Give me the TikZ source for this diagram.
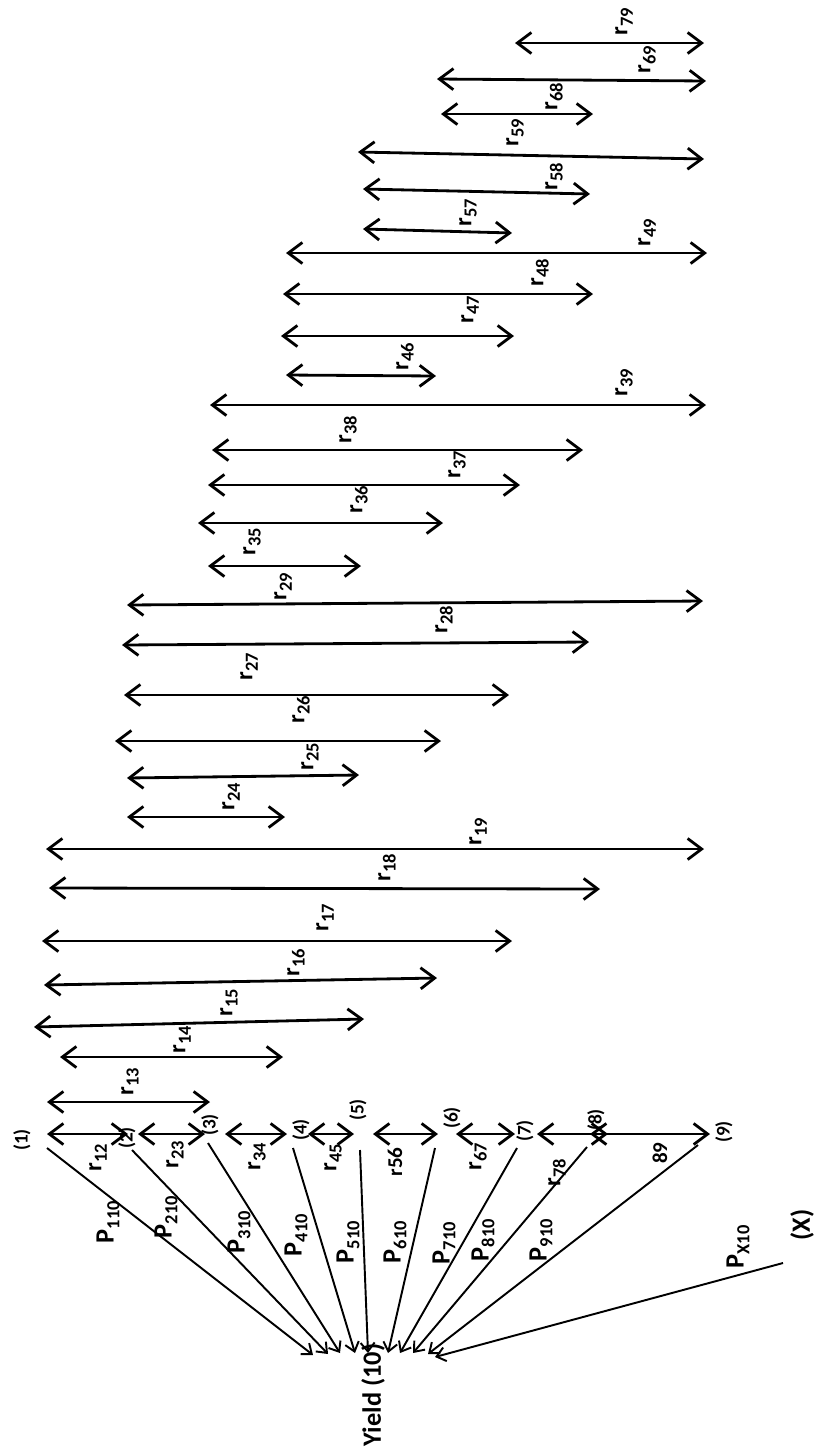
\documentclass[tikz,border=0pt]{standalone}
\usepackage{fontspec}
\setmainfont{Carlito}
\usetikzlibrary{arrows.meta}
\newcommand\sbs[1]{\raisebox{-0.45ex}{\fontsize{10.5}{11}\selectfont #1}}
\begin{document}
\begin{tikzpicture}[x=0.02cm,y=-0.02cm,
  dbl/.style={{Straight Barb[length=8pt,width=12pt]}-{Straight Barb[length=8pt,width=12pt]}, line width=1.6pt},
  pth/.style={-{Straight Barb[length=5pt,width=8pt]}, line width=1.1pt},
  rlab/.style={rotate=90, font=\bfseries\fontsize{14}{16}\selectfont, inner sep=0pt},
  plab/.style={rotate=90, font=\bfseries\fontsize{15}{17}\selectfont, inner sep=0pt},
  nlab/.style={rotate=90, font=\bfseries\fontsize{11}{12}\selectfont, inner sep=0pt}]
\useasboundingbox (0,0) rectangle (815,1451);

% long correlation arrows
\foreach \n/\xa/\ya/\xb/\yb/\lx/\ly in {
  13/47/1102/210/1102/130/1082,
  14/60/1057/283/1057/182/1040,
  15/34/1027/364/1019/229/1003,
  16/44/985/437/978/296/963,
  17/42/941/512/941/325/918,
  18/49/888/600/889/387/868,
  19/46/849/704/849/478/832,
  24/127/817/285/817/231/797,
  25/127/778/359/775/310/757,
  26/115/741/441/741/301/710,
  27/124/695/509/695/249/667,
  28/122/645/589/642/444/620,
  29/127/605/703/601/283/587,
  35/208/566/361/566/252/542,
  36/198/523/443/523/359/500,
  37/208/485/520/485/457/465,
  38/212/450/583/450/348/430,
  39/210/405/706/405/624/383,
  46/286/375/436/376/405/357,
  47/281/336/514/336/470/310,
  48/283/294/593/294/540/273,
  49/286/253/707/253/647/233,
  57/363/229/512/233/468/213,
  58/363/189/590/194/554/177,
  59/358/152/704/159/515/133,
  68/441/114/593/114/554/97,
  69/437/79/706/81/647/60,
  79/515/43/704/43/624/22}{
  \coordinate (a\n l) at (\xa,\ya);
  \coordinate (a\n r) at (\xb,\yb);
  \draw[dbl] (a\n l) -- (a\n r);
  \node[rlab] (l\n) at (\lx,\ly) {r\sbs{\n}};
}

% variable nodes
\node[nlab] (n1) at (22,1140) {(1)};
\node[nlab] (n2) at (127,1138) {(2)};
\node[nlab] (n3) at (210,1125) {(3)};
\node[nlab] (n4) at (301,1130) {(4)};
\node[nlab] (n5) at (358,1110) {(5)};
\node[nlab] (n6) at (452,1118) {(6)};
\node[nlab] (n7) at (525,1131) {(7)};
\node[nlab] (n8) at (596,1120) {(8)};
\node[nlab] (n9) at (724,1132) {(9)};
\node[plab] (nX) at (802,1225) {(X)};
\node[plab] (yield) at (373,1395) {Yield (10)};

% adjacent correlation arrows
\foreach \n/\xa/\xb in {12/47/128, 23/138/205, 34/225/287, 45/308/354,
  56/373/438, 67/456/515, 78/537/608, 89/590/710}{
  \coordinate (b\n l) at (\xa,1134);
  \coordinate (b\n r) at (\xb,1134);
  \draw[dbl] (b\n l) -- (b\n r);
}
\node[rlab] (m12) at (98,1158) {r\sbs{12}};
\node[rlab] (m23) at (175,1155) {r\sbs{23}};
\node[rlab] (m34) at (257,1157) {r\sbs{34}};
\node[rlab] (m45) at (333,1158) {r\sbs{45}};
\node[rlab, font=\bfseries\fontsize{12}{14}\selectfont] (m56) at (395,1162) {r56};
\node[rlab] (m67) at (478,1157) {r\sbs{67}};
\node[rlab] (m78) at (557,1173) {r\sbs{78}};
\node[rlab, font=\bfseries\fontsize{12}{14}\selectfont] (m89) at (660,1153) {89};

% direct paths to yield
\foreach \k/\sx/\sy/\ex/\ey in {1/47/1148/313/1355, 2/132/1150/328/1354,
  3/208/1143/340/1353, 4/293/1148/355/1353, 5/360/1150/368/1353,
  6/435/1148/388/1353, 7/517/1148/400/1353, 8/587/1147/413/1353,
  9/698/1145/428/1354, X/783/1263/435/1357}{
  \coordinate (s\k) at (\sx,\sy);
  \coordinate (e\k) at (\ex,\ey);
  \draw[pth] (s\k) -- (e\k);
}
\node[plab] (p1) at (108,1222) {P\sbs{110}};
\node[plab] (p2) at (166,1217) {P\sbs{210}};
\node[plab] (p3) at (239,1232) {P\sbs{310}};
\node[plab] (p4) at (296,1235) {P\sbs{410}};
\node[plab] (p5) at (348,1242) {P\sbs{510}};
\node[plab] (p6) at (395,1242) {P\sbs{610}};
\node[plab] (p7) at (444,1243) {P\sbs{710}};
\node[plab] (p8) at (483,1240) {P\sbs{810}};
\node[plab] (p9) at (541,1240) {P\sbs{910}};
\node[plab] (pX) at (738,1247) {P\sbs{X10}};
\end{tikzpicture}
\end{document}
